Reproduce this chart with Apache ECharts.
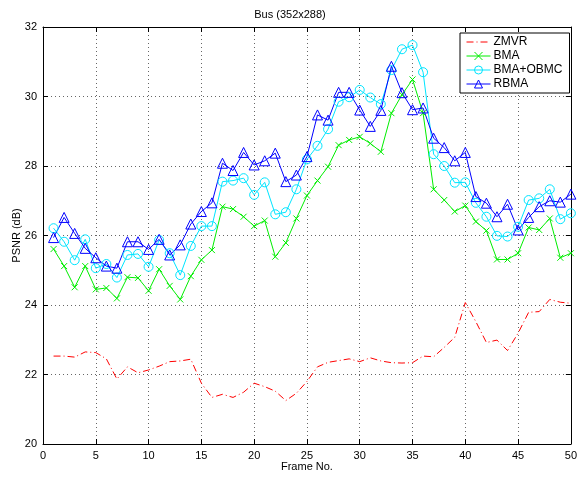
<!DOCTYPE html>
<html>
<head>
<meta charset="utf-8">
<script src="https://cdn.jsdelivr.net/npm/echarts@6/dist/echarts.min.js"></script>
<style>html,body{margin:0;padding:0;background:#fff}#c{width:580px;height:482px}</style>
</head>
<body>
<div id="c"></div>
<script>
const frames = [1,2,3,4,5,6,7,8,9,10,11,12,13,14,15,16,17,18,19,20,21,22,23,24,25,26,27,28,29,30,31,32,33,34,35,36,37,38,39,40,41,42,43,44,45,46,47,48,49,50];
const zmvr = [22.53,22.53,22.50,22.65,22.63,22.45,21.87,22.22,22.05,22.13,22.24,22.37,22.39,22.44,21.75,21.34,21.43,21.34,21.49,21.75,21.65,21.52,21.25,21.46,21.80,22.22,22.35,22.40,22.45,22.37,22.48,22.39,22.34,22.33,22.34,22.53,22.51,22.78,23.07,24.07,23.52,22.92,22.99,22.69,23.19,23.79,23.81,24.16,24.08,24.05];
const bma = [25.61,25.12,24.51,25.12,24.45,24.49,24.19,24.80,24.78,24.41,25.03,24.55,24.16,24.83,25.30,25.58,26.83,26.76,26.54,26.27,26.43,25.39,25.79,26.49,27.15,27.58,27.98,28.60,28.75,28.84,28.65,28.41,29.52,30.05,30.49,29.52,27.33,27.02,26.69,26.86,26.40,26.14,25.31,25.31,25.49,26.23,26.16,26.49,25.36,25.49];
const obmc = [26.21,25.82,25.29,25.89,25.06,25.18,24.79,25.44,25.47,25.10,25.87,25.49,24.86,25.70,26.27,26.27,27.55,27.58,27.65,27.17,27.53,26.61,26.67,27.33,28.19,28.58,29.06,29.85,29.98,30.19,29.97,29.78,30.76,31.36,31.48,30.70,28.34,28.00,27.52,27.53,26.94,26.54,25.99,25.97,26.25,27.02,27.07,27.33,26.47,26.64];
const rbma = [25.94,26.52,26.06,25.63,25.36,25.12,25.06,25.82,25.82,25.60,25.89,25.44,25.73,26.33,26.69,26.94,28.08,27.87,28.39,28.03,28.15,28.37,27.55,27.74,28.27,29.47,29.32,30.12,30.12,29.61,29.14,29.60,30.87,30.11,29.62,29.67,28.80,28.53,28.15,28.39,27.12,26.93,26.54,26.90,26.16,26.52,26.83,27.00,26.96,27.19];
const seriesNames = ['ZMVR','BMA','BMA+OBMC','RBMA'];
const titleText = 'Bus (352x288)';
const xName = 'Frame No.';
const yName = 'PSNR (dB)';

const FONT = 'Liberation Sans, Arial, Helvetica, sans-serif';
const RED = '#ff0000', GREEN = '#00ee00', CYAN = '#00e5ff', BLUE = '#0000ff';
const CROSS = 'path://M0,0L10,10M10,0L0,10';
const pair = arr => frames.map((f,i)=>[f,arr[i]]);
const gridLine = {show:true, lineStyle:{color:'#666', type:[1,3], width:1}};
const axisLineBlack = {show:true, onZero:false, lineStyle:{color:'#000', width:1}};
const tickIn = {show:true, inside:true, length:5, lineStyle:{color:'#000'}};
const hollow = c => ({color:'transparent', borderColor:c, borderWidth:1});

const chart = echarts.init(document.getElementById('c'), null, {renderer:'canvas'});
chart.setOption({
  animation:false,
  backgroundColor:'#fff',
  title:{text:titleText, left:'center', top:4, textStyle:{fontFamily:FONT, fontSize:11, fontWeight:'normal', color:'#000'}},
  grid:{left:43, right:7, top:27, bottom:38, containLabel:false},
  legend:{
    data:[
      {name:seriesNames[0], itemStyle:{color:'transparent', borderWidth:0, opacity:0}, lineStyle:{color:RED, width:1, type:[7,3,1,3]}},
      {name:seriesNames[1], itemStyle:hollow(GREEN), lineStyle:{color:GREEN, width:1}},
      {name:seriesNames[2], itemStyle:hollow(CYAN), lineStyle:{color:CYAN, width:1}},
      {name:seriesNames[3], itemStyle:hollow(BLUE), lineStyle:{color:BLUE, width:1}}
    ],
    orient:'vertical', left:460, top:33,
    backgroundColor:'#fff', borderColor:'#000', borderWidth:1, borderRadius:0,
    padding:[3,7,3,6], itemGap:2, itemWidth:24, itemHeight:10,
    textStyle:{fontFamily:FONT, fontSize:12, color:'#000', padding:[0,0,0,-2]}
  },
  xAxis:[
    {type:'value', min:0, max:50, interval:5, position:'bottom',
     axisLine:axisLineBlack, axisTick:tickIn, splitLine:gridLine,
     axisLabel:{fontFamily:FONT, fontSize:11, color:'#000', margin:6},
     name:xName, nameLocation:'middle', nameGap:17, nameMoveOverlap:false,
     nameTextStyle:{fontFamily:FONT, fontSize:11, color:'#000'}},
    {type:'value', min:0, max:50, interval:5, position:'top',
     axisLine:axisLineBlack, axisTick:tickIn, splitLine:{show:false}, axisLabel:{show:false}}
  ],
  yAxis:[
    {type:'value', min:20, max:32, interval:2, position:'left',
     axisLine:axisLineBlack, axisTick:tickIn, splitLine:gridLine,
     axisLabel:{fontFamily:FONT, fontSize:11, color:'#000', margin:6},
     name:yName, nameLocation:'middle', nameGap:21, nameRotate:90, nameMoveOverlap:false,
     nameTextStyle:{fontFamily:FONT, fontSize:11, color:'#000'}},
    {type:'value', min:20, max:32, interval:2, position:'right',
     axisLine:axisLineBlack, axisTick:tickIn, splitLine:{show:false}, axisLabel:{show:false}}
  ],
  series:[
    {name:seriesNames[0], type:'line', data:pair(zmvr), symbol:'circle', symbolSize:0, showSymbol:false, color:RED,
     lineStyle:{color:RED, width:1, type:[7,3,1,3]}},
    {name:seriesNames[1], type:'line', data:pair(bma), color:GREEN,
     symbol:CROSS, symbolSize:6, itemStyle:hollow(GREEN),
     lineStyle:{color:GREEN, width:1}},
    {name:seriesNames[2], type:'line', data:pair(obmc), color:CYAN,
     symbol:'circle', symbolSize:9, itemStyle:hollow(CYAN),
     lineStyle:{color:CYAN, width:1}},
    {name:seriesNames[3], type:'line', data:pair(rbma), color:BLUE,
     symbol:'triangle', symbolSize:10, itemStyle:hollow(BLUE),
     lineStyle:{color:BLUE, width:1}}
  ]
});
</script>
</body>
</html>
